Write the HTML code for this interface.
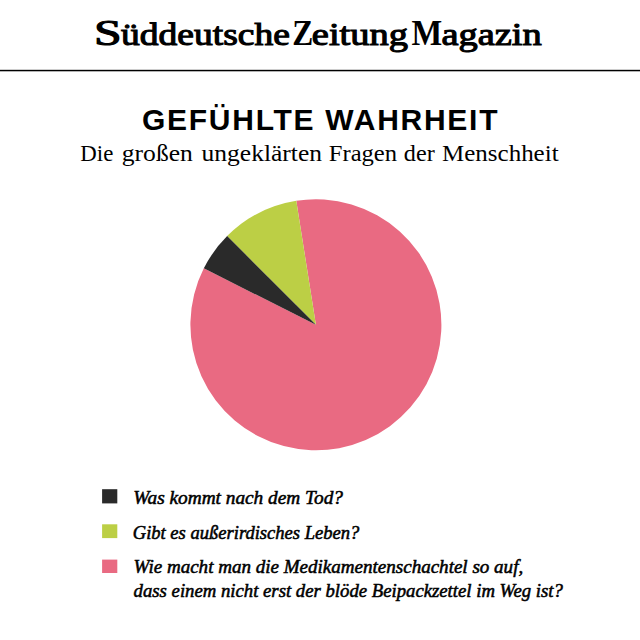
<!DOCTYPE html>
<html><head><meta charset="utf-8">
<style>
html,body{margin:0;padding:0;background:#fff;width:640px;height:640px;overflow:hidden}
svg{display:block}
.logo{font-family:"Liberation Serif",serif;font-weight:normal;font-size:35px;fill:#000}
.title{font-family:"Liberation Sans",sans-serif;font-weight:bold;font-size:30px;fill:#000}
.sub{font-family:"Liberation Serif",serif;font-size:23.75px;fill:#000}
.leg{font-family:"Liberation Serif",serif;font-weight:normal;font-style:italic;font-size:19.5px;fill:#000;stroke:#000;stroke-width:0.55px}
</style></head>
<body>
<svg width="640" height="640" viewBox="0 0 640 640">
<rect x="0" y="0" width="640" height="640" fill="#fff"/>
<text class="logo" y="45"><tspan x="93.96" textLength="27.62" lengthAdjust="spacingAndGlyphs" stroke="#000" stroke-width="1.1">S</tspan><tspan x="121" textLength="168.89" lengthAdjust="spacingAndGlyphs" font-size="32.55" stroke="#000" stroke-width="1.1">üddeutsche</tspan> <tspan x="292.2" textLength="21.02" lengthAdjust="spacingAndGlyphs" font-weight="bold">Z</tspan><tspan x="311.82" textLength="96.11" lengthAdjust="spacingAndGlyphs" font-size="32.55" stroke="#000" stroke-width="1.1">eitung</tspan> <tspan x="411.57" textLength="30.7" lengthAdjust="spacingAndGlyphs" font-weight="bold">M</tspan><tspan x="441.52" textLength="100.21" lengthAdjust="spacingAndGlyphs" font-size="32.55" stroke="#000" stroke-width="1.1">agazin</tspan></text>
<rect x="0" y="69.8" width="640" height="1.5" fill="#000"/>
<text class="title" x="142" y="130" textLength="355.5" lengthAdjust="spacing">GEFÜHLTE WAHRHEIT</text>
<text class="sub" y="161.4"><tspan x="80.34" textLength="32.95" lengthAdjust="spacingAndGlyphs">Die</tspan> <tspan x="121.82" textLength="71.0" lengthAdjust="spacingAndGlyphs">großen</tspan> <tspan x="201.63" textLength="120.36" lengthAdjust="spacingAndGlyphs">ungeklärten</tspan> <tspan x="328.76" textLength="68.32" lengthAdjust="spacingAndGlyphs">Fragen</tspan> <tspan x="403.88" textLength="30.85" lengthAdjust="spacingAndGlyphs">der</tspan> <tspan x="442.05" textLength="116.55" lengthAdjust="spacingAndGlyphs">Menschheit</tspan></text>
<g transform="translate(315.9,324.8)">
<path d="M0,0 L-19.63,-123.96 A125.5,125.5 0 1 1 -112.09,-56.46 Z" fill="#e96a82"/>
<path d="M0,0 L-19.63,-123.96 A125.5,125.5 0 0 0 -88.74,-88.74 Z" fill="#bccf45"/>
<path d="M0,0 L-88.74,-88.74 A125.5,125.5 0 0 0 -112.09,-56.46 Z" fill="#2a2a2a"/>
</g>
<rect x="102.1" y="489.2" width="15.2" height="14.2" fill="#2a2a2a"/>
<rect x="102.1" y="524.3" width="15.2" height="13.8" fill="#bccf45"/>
<rect x="102.1" y="559.6" width="15.2" height="13.4" fill="#e96a82"/>
<text class="leg" x="133.2" y="504" textLength="209.8" lengthAdjust="spacingAndGlyphs">Was kommt nach dem Tod?</text>
<text class="leg" x="132.75" y="538.5" textLength="226.5" lengthAdjust="spacingAndGlyphs">Gibt es außerirdisches Leben?</text>
<text class="leg" x="133.6" y="573.1" textLength="389.6" lengthAdjust="spacingAndGlyphs">Wie macht man die Medikamentenschachtel so auf,</text>
<text class="leg" x="133.6" y="597.2" textLength="429.3" lengthAdjust="spacingAndGlyphs">dass einem nicht erst der blöde Beipackzettel im Weg ist?</text>
</svg>
</body></html>
